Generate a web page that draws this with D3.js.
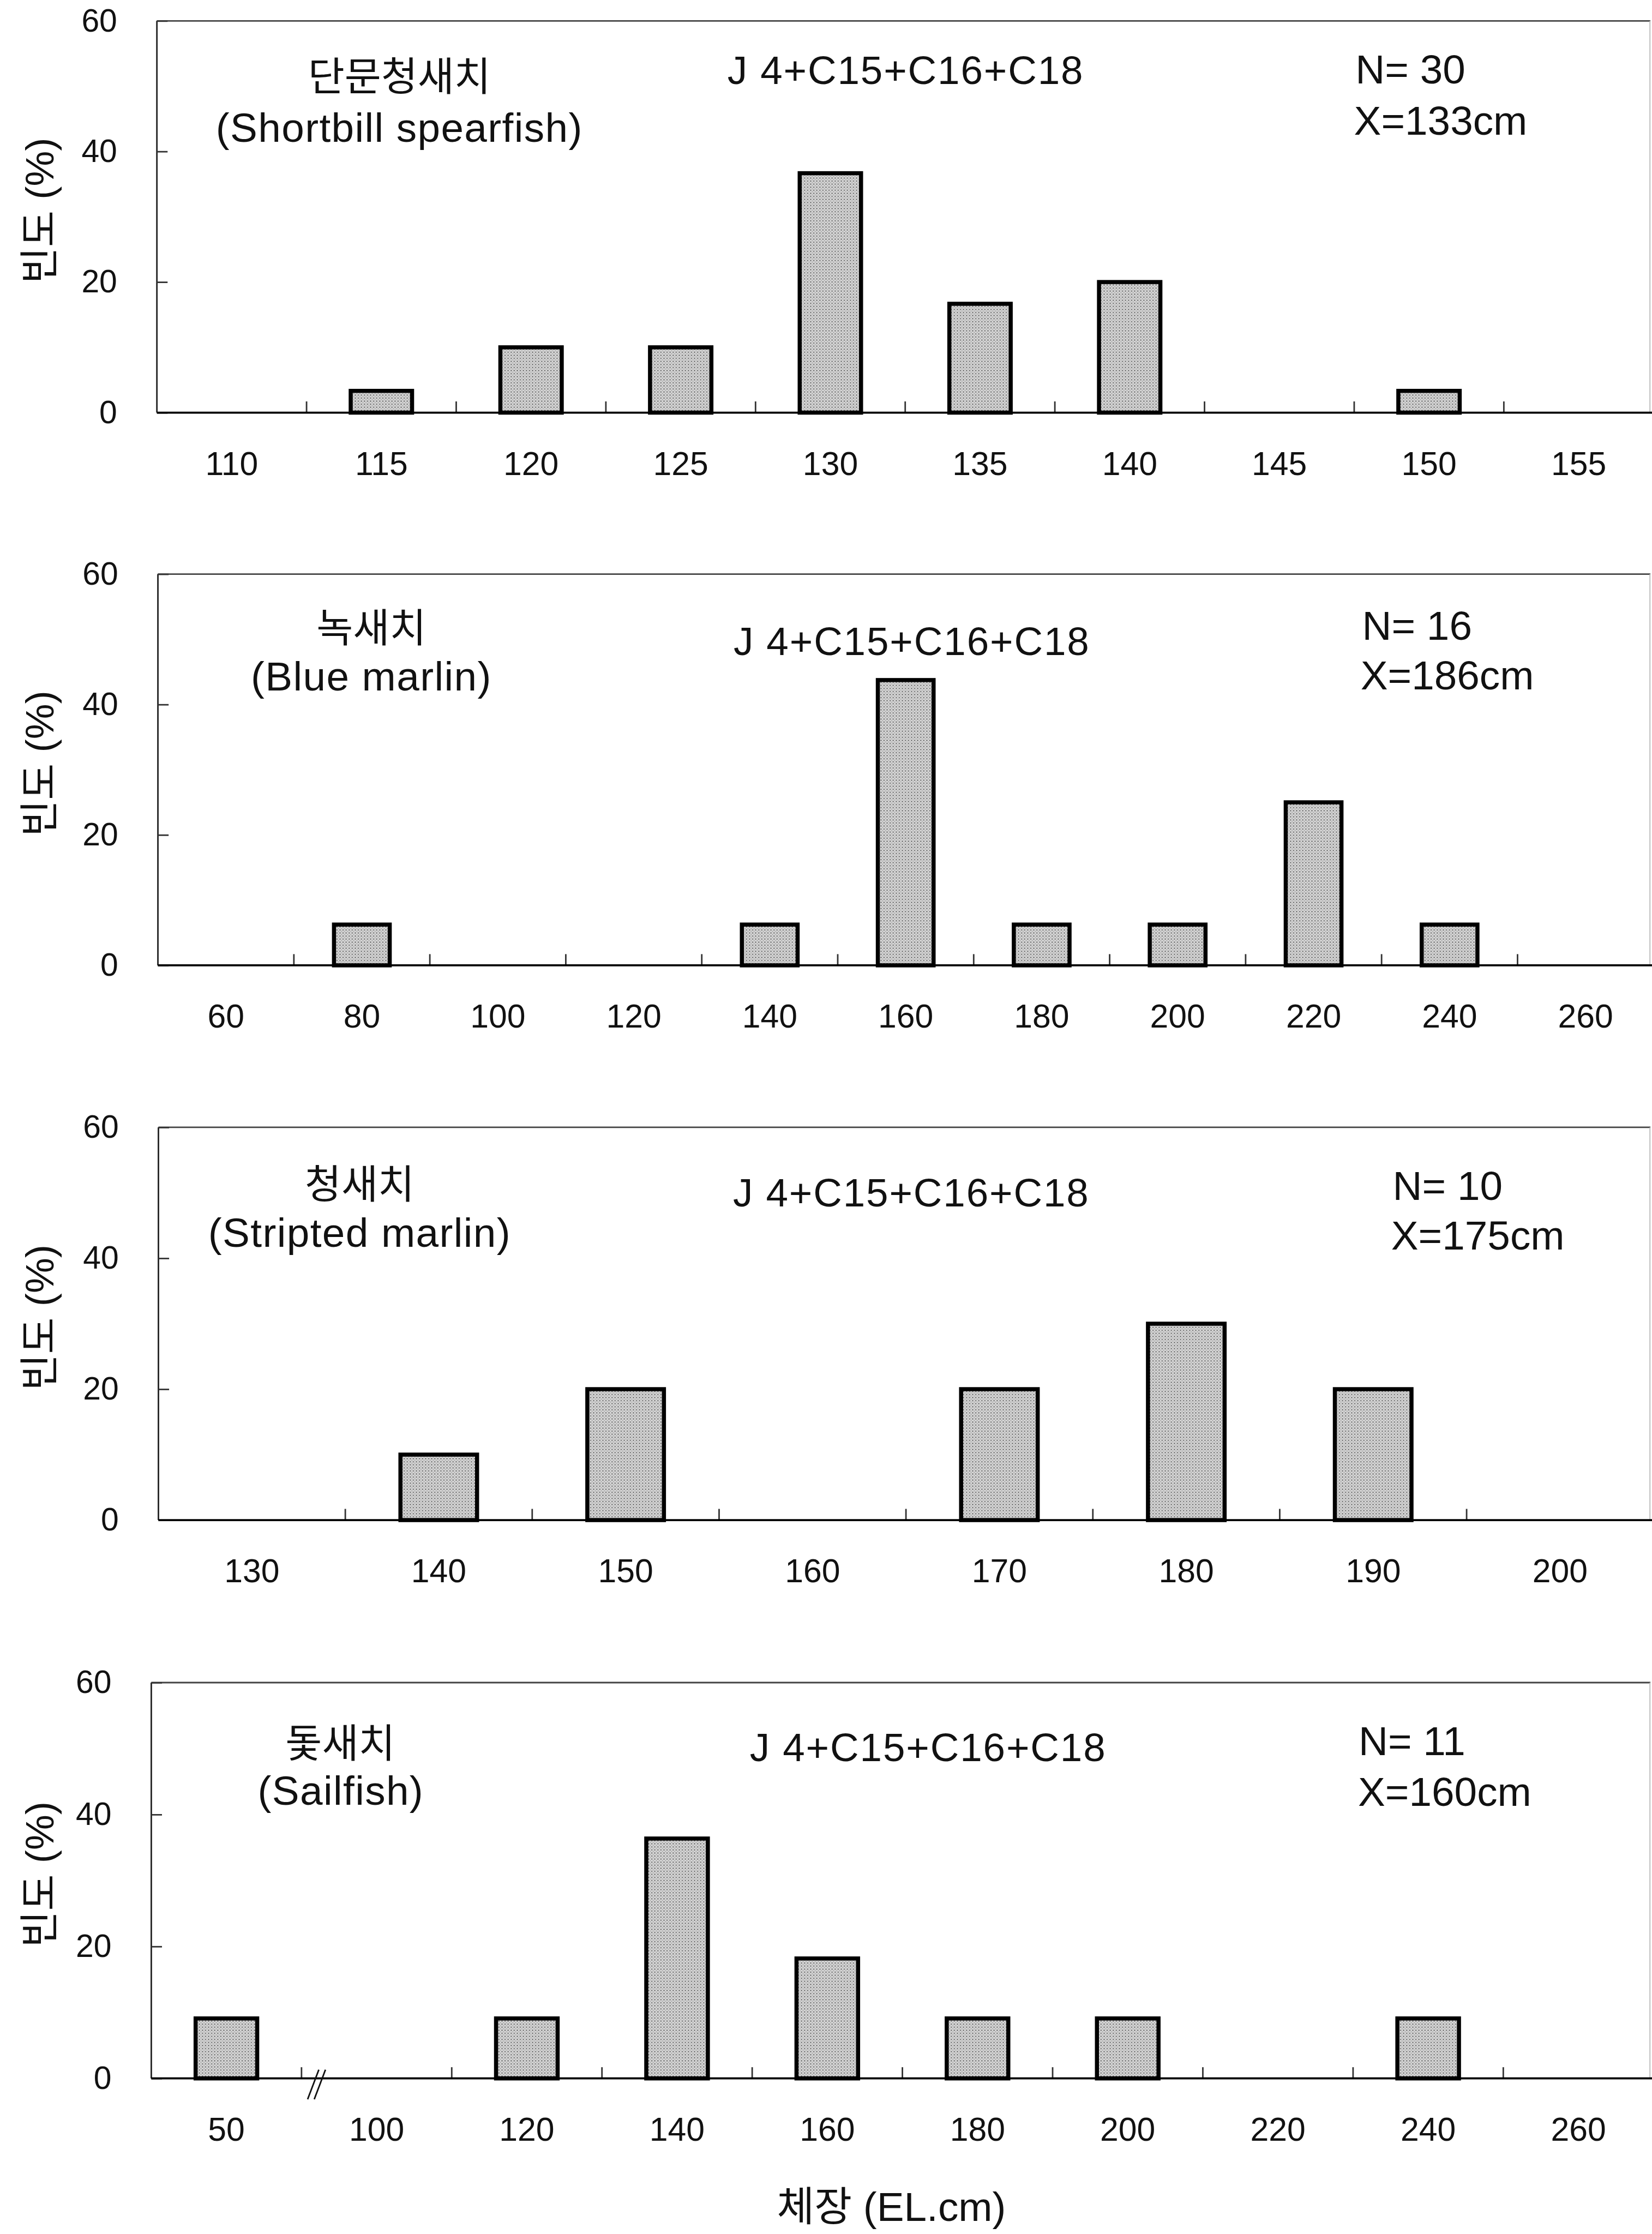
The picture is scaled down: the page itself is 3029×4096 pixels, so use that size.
<!DOCTYPE html>
<html>
<head>
<meta charset="utf-8">
<script src="https://cdn.jsdelivr.net/npm/d3@7"></script>
<style>
  html, body { margin: 0; padding: 0; background: #fff; }
  svg { display: block; }
</style>
</head>
<body>
<div id="chart"></div>
<script>
  // --- data ---
  var speciesKo = ["단문청새치", "녹새치", "청새치", "돛새치"];
  var speciesEn = ["(Shortbill spearfish)", "(Blue marlin)", "(Stripted marlin)", "(Sailfish)"];
  var gearLabel = "J 4+C15+C16+C18";
  var sampleN = ["N= 30", "N= 16", "N= 10", "N= 11"];
  var meanLen = ["X=133cm", "X=186cm", "X=175cm", "X=160cm"];

  var lenShortbill = [110, 115, 120, 125, 130, 135, 140, 145, 150, 155];
  var pctShortbill = [0, 3.33, 10, 10, 36.67, 16.67, 20, 0, 3.33, 0];

  var lenBlue = [60, 80, 100, 120, 140, 160, 180, 200, 220, 240, 260];
  var pctBlue = [0, 6.25, 0, 0, 6.25, 43.75, 6.25, 6.25, 25, 6.25, 0];

  var lenStriped = [130, 140, 150, 160, 170, 180, 190, 200];
  var pctStriped = [0, 10, 20, 0, 20, 30, 20, 0];

  var lenSail = [50, 100, 120, 140, 160, 180, 200, 220, 240, 260];
  var pctSail = [9.09, 0, 9.09, 36.36, 18.18, 9.09, 9.09, 0, 9.09, 0];

  var yTicks = [0, 20, 40, 60];
  var yTitle = "빈도 (%)";
  var xTitle = "체장 (EL.cm)";

  var lengths = [lenShortbill, lenBlue, lenStriped, lenSail];
  var percents = [pctShortbill, pctBlue, pctStriped, pctSail];

  // --- layout (reference pixels, drawn at 0.934) ---
  var k = 0.934,
      W = 3029, H = 4096,
      right = 3246;

  var layout = [
    {left: 308, top: 41,   bottom: 810,  ko: [784, 178],  en: [784, 278],  gear: [1428, 165],  n: [2661, 164],  m: [2658, 264]},
    {left: 310, top: 1127, bottom: 1895, ko: [729, 1260], en: [729, 1356], gear: [1440, 1286], n: [2674, 1256], m: [2671, 1353]},
    {left: 311, top: 2213, bottom: 2984, ko: [706, 2352], en: [706, 2448], gear: [1439, 2368], n: [2734, 2356], m: [2731, 2453]},
    {left: 297, top: 3303, bottom: 4080, ko: [668, 3450], en: [669, 3543], gear: [1472, 3457], n: [2667, 3445], m: [2666, 3545]}
  ];

  var latin = "'Liberation Sans', Arial, 'Noto Sans CJK KR', sans-serif";
  var hangul = "'Noto Sans CJK KR', 'Liberation Sans', sans-serif";

  var svg = d3.select("#chart")
      .append("svg")
      .attr("width", W)
      .attr("height", H);

  var defs = svg.append("defs");
  var pat = defs.append("pattern")
      .attr("id", "stipple")
      .attr("patternUnits", "userSpaceOnUse")
      .attr("width", 6)
      .attr("height", 6);
  pat.append("rect").attr("width", 6).attr("height", 6).attr("fill", "#d6d6d6");
  pat.append("circle").attr("cx", 1.5).attr("cy", 1.5).attr("r", 1.2).attr("fill", "#5a5a5a");
  pat.append("circle").attr("cx", 4.5).attr("cy", 4.5).attr("r", 0.9).attr("fill", "#8a8a8a");

  var root = svg.append("g").attr("transform", "scale(" + k + ")");

  layout.forEach(function(L, i) {
    var cats = lengths[i],
        vals = percents[i];

    var g = root.append("g").attr("class", "panel");

    var x = d3.scaleBand()
        .domain(cats)
        .range([L.left, right]);

    var xBar = d3.scaleBand()
        .domain(cats)
        .range([L.left, right])
        .paddingInner(0.59)
        .paddingOuter(0.295);

    var y = d3.scaleLinear()
        .domain([0, 60])
        .range([L.bottom, L.top]);

    // frame
    g.append("line")
        .attr("x1", L.left).attr("x2", right - 6)
        .attr("y1", L.top).attr("y2", L.top)
        .attr("stroke", "#444").attr("stroke-width", 3);
    g.append("line")
        .attr("x1", L.left).attr("x2", L.left)
        .attr("y1", L.top).attr("y2", L.bottom)
        .attr("stroke", "#222").attr("stroke-width", 3);
    g.append("line")
        .attr("x1", right - 7).attr("x2", right - 7)
        .attr("y1", L.top).attr("y2", L.bottom)
        .attr("stroke", "#bbb").attr("stroke-width", 2);

    // y axis
    var yAxis = d3.axisLeft(y)
        .tickValues(yTicks)
        .tickSizeInner(-21)
        .tickSizeOuter(0)
        .tickPadding(78);

    var ya = g.append("g")
        .attr("class", "y axis")
        .attr("transform", "translate(" + L.left + ",0)")
        .call(yAxis);
    ya.select(".domain").remove();
    ya.selectAll("line").attr("stroke", "#333").attr("stroke-width", 3);
    ya.selectAll("text")
        .attr("font-family", latin)
        .attr("font-size", 63)
        .attr("fill", "#111");

    // bars
    g.selectAll("rect.bar")
        .data(cats.map(function(c, j) { return {len: c, pct: vals[j]}; })
                  .filter(function(d) { return d.pct > 0; }))
        .enter().append("rect")
        .attr("class", "bar")
        .attr("x", function(d) { return xBar(d.len); })
        .attr("width", xBar.bandwidth())
        .attr("y", function(d) { return y(d.pct); })
        .attr("height", function(d) { return y(0) - y(d.pct); })
        .attr("fill", "url(#stipple)")
        .attr("stroke", "#000")
        .attr("stroke-width", 8);

    // boundary ticks on x
    g.selectAll("line.xtick")
        .data(cats.slice(1))
        .enter().append("line")
        .attr("class", "xtick")
        .attr("x1", function(d) { return x(d); })
        .attr("x2", function(d) { return x(d); })
        .attr("y1", L.bottom)
        .attr("y2", L.bottom - 22)
        .attr("stroke", "#333")
        .attr("stroke-width", 3);

    // baseline
    g.append("line")
        .attr("x1", L.left).attr("x2", right)
        .attr("y1", L.bottom).attr("y2", L.bottom)
        .attr("stroke", "#000").attr("stroke-width", 4);

    // x labels
    var xAxis = d3.axisBottom(x)
        .tickSize(0)
        .tickPadding(76);

    var xa = g.append("g")
        .attr("class", "x axis")
        .attr("transform", "translate(0," + L.bottom + ")")
        .call(xAxis);
    xa.select(".domain").remove();
    xa.selectAll("text")
        .attr("font-family", latin)
        .attr("font-size", 65)
        .attr("fill", "#111");

    // axis break on the sailfish panel
    if (i === 3) {
      var bx = x(cats[1]);
      [0, 13].forEach(function(off) {
        g.append("line")
            .attr("x1", bx + 12 + off).attr("y1", L.bottom + 41)
            .attr("x2", bx + 34 + off).attr("y2", L.bottom - 17)
            .attr("stroke", "#111").attr("stroke-width", 3);
      });
    }

    // y title
    g.append("text")
        .attr("transform", "translate(78," + ((L.top + L.bottom) / 2 - 12) + ") rotate(-90)")
        .attr("text-anchor", "middle")
        .attr("dominant-baseline", "central")
        .attr("font-family", latin)
        .attr("font-size", 78)
        .attr("fill", "#111")
        .text(yTitle);

    // annotations
    g.append("text")
        .attr("x", L.ko[0]).attr("y", L.ko[1])
        .attr("text-anchor", "middle")
        .attr("font-family", hangul)
        .attr("font-size", 78)
        .attr("fill", "#111")
        .text(speciesKo[i]);

    g.append("text")
        .attr("x", L.en[0]).attr("y", L.en[1])
        .attr("text-anchor", "middle")
        .attr("font-family", latin)
        .attr("font-size", 80)
        .attr("letter-spacing", 1.5)
        .attr("fill", "#111")
        .text(speciesEn[i]);

    g.append("text")
        .attr("x", L.gear[0]).attr("y", L.gear[1])
        .attr("font-family", latin)
        .attr("font-size", 78)
        .attr("letter-spacing", 2)
        .attr("fill", "#111")
        .text(gearLabel);

    g.append("text")
        .attr("x", L.n[0]).attr("y", L.n[1])
        .attr("font-family", latin)
        .attr("font-size", 80)
        .attr("fill", "#111")
        .text(sampleN[i]);

    g.append("text")
        .attr("x", L.m[0]).attr("y", L.m[1])
        .attr("font-family", latin)
        .attr("font-size", 80)
        .attr("fill", "#111")
        .text(meanLen[i]);
  });

  // x title
  root.append("text")
      .attr("x", 1750)
      .attr("y", 4360)
      .attr("text-anchor", "middle")
      .attr("font-family", latin)
      .attr("font-size", 80)
      .attr("fill", "#111")
      .text(xTitle);
</script>
</body>
</html>
